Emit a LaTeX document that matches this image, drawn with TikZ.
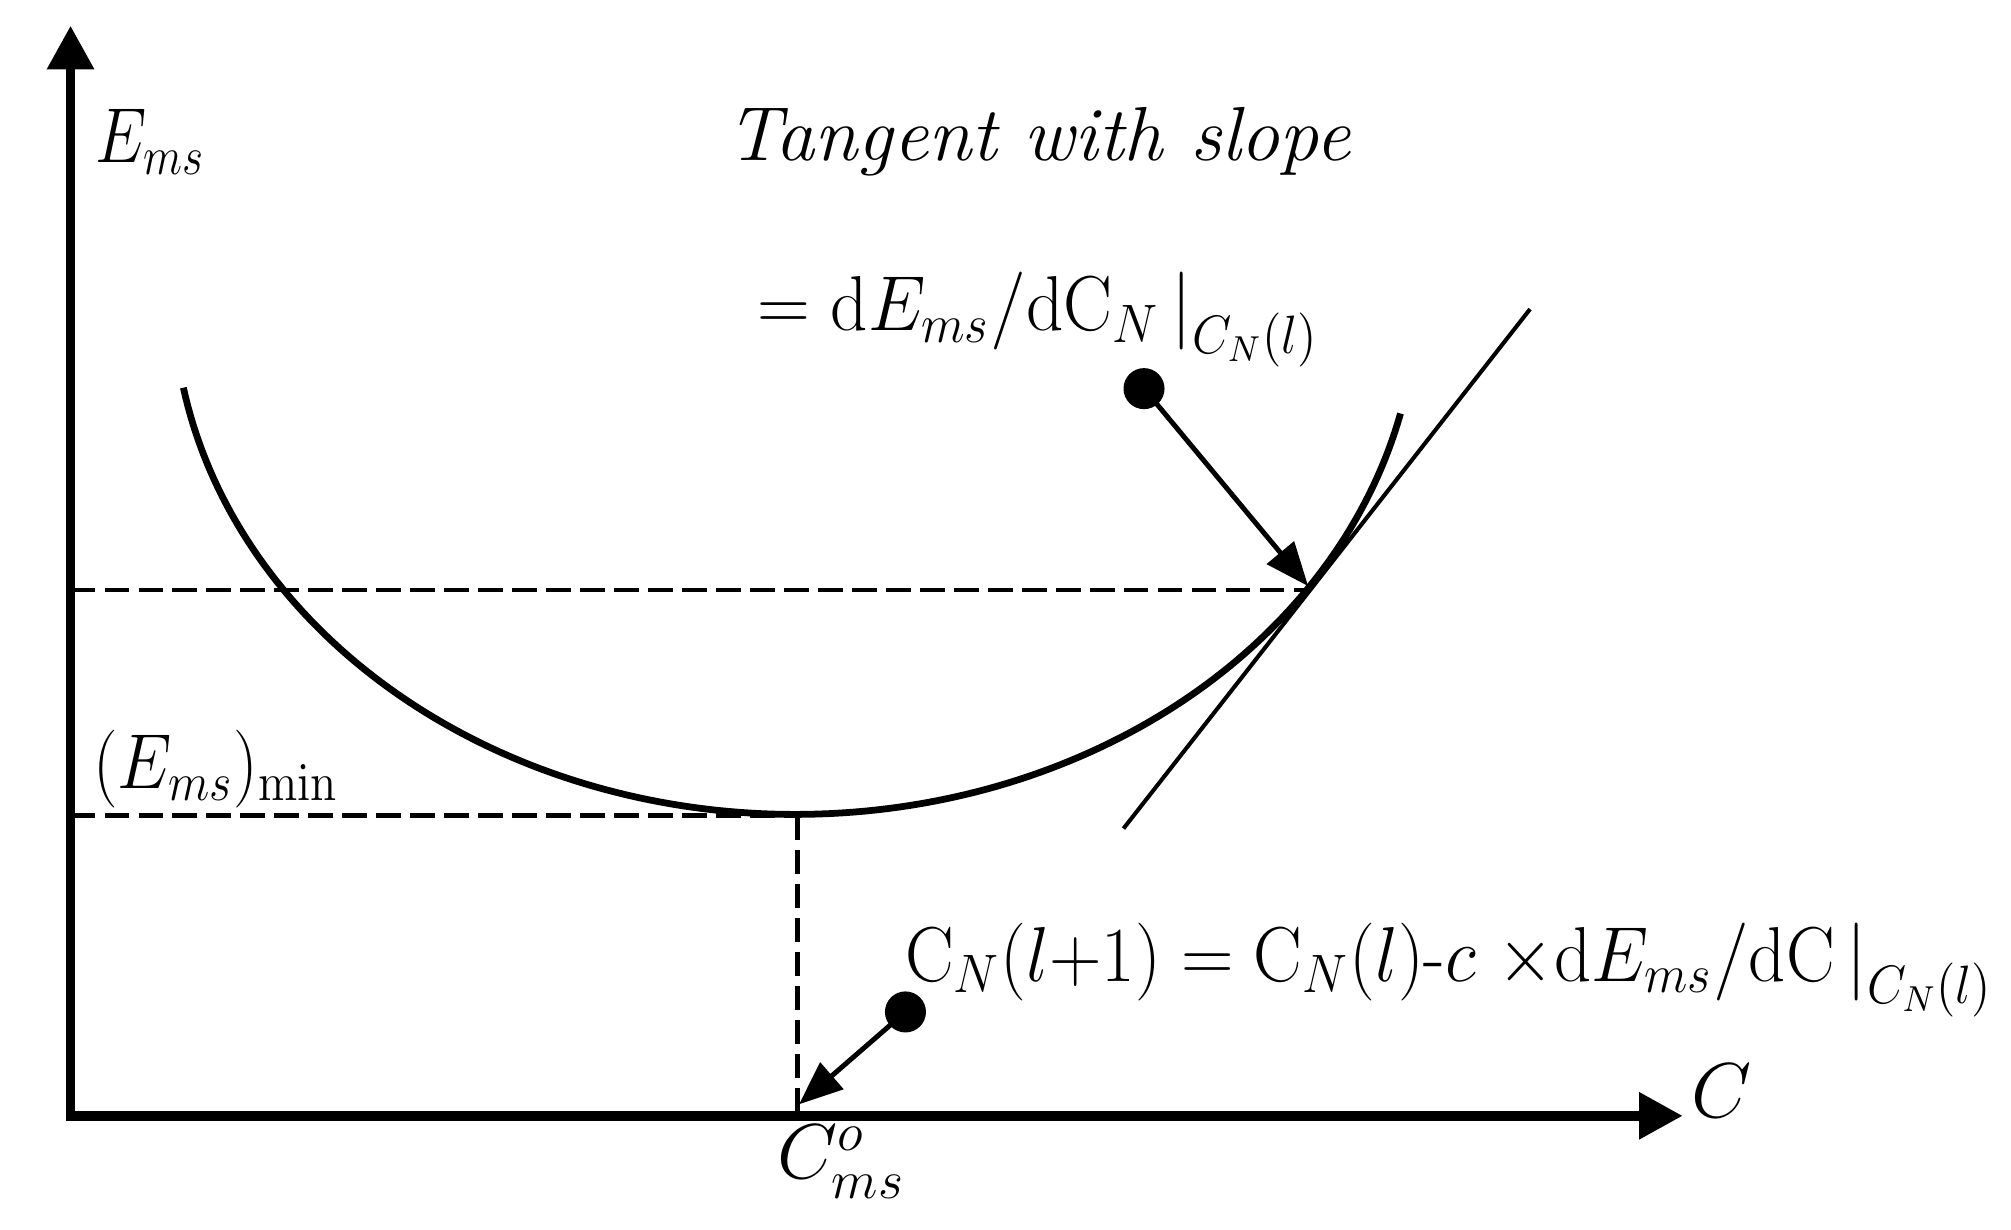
\documentclass[tikz,border=0pt]{standalone}
\usepackage{graphicx}
\usetikzlibrary{arrows.meta}
\begin{document}
\begin{tikzpicture}[x=0.1mm,y=-0.1mm,
  axis/.style={line width=2.1pt,line cap=rect,-{Triangle[length=3.4mm,width=3.5mm]}},
  curvestyle/.style={line width=1.5pt},
  guide/.style={line width=1.1pt,dash pattern=on 1.9mm off 0.75mm},
  tanline/.style={line width=0.9pt},
  pointer/.style={line width=1.1pt,-{Triangle[length=3.4mm,width=2.7mm]}},
  dotnode/.style={circle,fill=black,inner sep=0pt,minimum size=3.2mm},
  lbl/.style={inner sep=0pt,font=\fontsize{17}{20}\selectfont}]
\useasboundingbox (0,0) rectangle (1568,959);
% axes
\coordinate (O) at (55,870);
\coordinate (Ytip) at (55,20);
\coordinate (Xtip) at (1312,870);
\draw[axis] (O) -- (Ytip);
\draw[axis] (O) -- (Xtip);
% curve
\draw[curvestyle] plot[domain=13.3:169.6,samples=150] ({620+485*cos(\x)},{229+406*sin(\x)});
\coordinate (T) at (1022,460);
\coordinate (M) at (622,636);
\coordinate (Mx) at (622,870);
\coordinate (Ty) at (55,460);
\coordinate (My) at (55,636);
\coordinate (tanA) at (876,646);
\coordinate (tanB) at (1193,241);
\coordinate (Cb) at (623,861);
\coordinate (Tp) at (1020,457);
% guides
\draw[guide] (Ty) -- (T);
\draw[guide] (My) -- (M);
\draw[guide] (M) -- (Mx);
% tangent
\draw[tanline] (tanA) -- (tanB);
% dots and pointers
\node[dotnode] (d1) at (892,303) {};
\node[dotnode] (d2) at (706,789) {};
\draw[pointer] (d1.center) -- (Tp);
\draw[pointer] (d2.center) -- (Cb);
% labels
\node[lbl,anchor=base west] (ylab) at (74,127) {\scalebox{0.84}[1]{$E_{ms}$}};
\node[lbl,anchor=base west] (xlab) at (1318,871) {$C$};
\node[lbl,anchor=base] (tang) at (810,125) {\scalebox{1.02}[1]{\textit{Tangent with slope}}};
\node[lbl,anchor=base west] (eq1) at (590,258) {\scalebox{0.94}[1]{$= \mathrm{d}E_{ms}/\mathrm{d}\mathrm{C}_{N}\,\big|_{C_N(l)}$}};
\node[lbl,anchor=base west] (emin) at (72,615) {\scalebox{0.89}[1]{$(E_{ms})_{\mathrm{min}}$}};
\node[lbl,anchor=base west] (eq2) at (705,765) {\scalebox{0.935}[1]{$\mathrm{C}_{N}(l{+}1) = \mathrm{C}_{N}(l)\mbox{-}c\ {\times}\mathrm{d}E_{ms}/\mathrm{d}\mathrm{C}\,\big|_{C_N(l)}$}};
\node[lbl] (cms) at (656,906) {$C_{ms}^{o}$};
\end{tikzpicture}
\end{document}
